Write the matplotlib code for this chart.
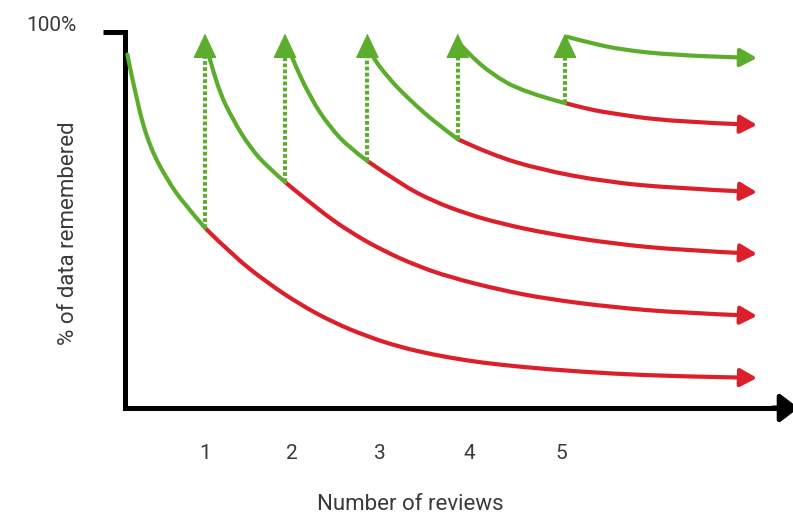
import matplotlib.pyplot as plt
from matplotlib.path import Path
from matplotlib.patches import PathPatch, FancyArrowPatch

plt.rcParams['font.family'] = ['Roboto', 'DejaVu Sans']

# review moments (x in review units, y in % remembered)
review_x = [1.0, 2.0, 3.03, 4.16, 5.5]
review_low = [47.9, 60.1, 65.7, 71.5, 81.1]
review_top = 99.6

tick_pos = [1.0, 2.09, 3.19, 4.31, 5.46]
tick_labels = ['1', '2', '3', '4', '5']

# green parts: memory right after a review, until the next one
green_x = [
    [0.03, 0.15, 0.31, 0.53, 0.73, 1.0],
    [1.02, 1.15, 1.35, 1.56, 1.78, 2.0],
    [2.02, 2.06, 2.31, 2.56, 2.81, 3.03],
    [3.04, 3.06, 3.28, 3.56, 3.9, 4.16],
    [4.18, 4.25, 4.56, 4.98, 5.5],
]
green_y = [
    [94.0, 81.1, 69.4, 60.6, 54.5, 47.9],
    [96.0, 85.4, 76.6, 69.4, 64.1, 60.1],
    [97.0, 94.4, 82.7, 74.7, 69.1, 65.7],
    [96.5, 94.4, 88.0, 81.9, 75.5, 71.5],
    [97.0, 95.2, 89.1, 84.0, 81.1],
]
# last curve after review 5, stays green
last_x = [5.53, 5.81, 6.23, 6.85, 7.69, 7.9]
last_y = [98.7, 97.1, 95.2, 93.9, 93.2, 93.1]

# red parts: forgetting when no further review happens
red_x = [
    [1.0, 1.35, 1.78, 2.19, 2.6, 3.03, 3.44, 3.85, 4.28, 4.69, 5.28, 6.1, 6.94, 7.9],
    [2.0, 2.4, 2.81, 3.23, 3.65, 4.06, 4.69, 5.28, 6.1, 6.94, 7.9],
    [3.03, 3.44, 3.85, 4.28, 4.69, 5.28, 6.1, 6.94, 7.9],
    [4.16, 4.56, 5.19, 6.03, 6.85, 7.9],
    [5.5, 5.73, 6.03, 6.85, 7.9],
]
red_y = [
    [47.9, 40.5, 33.3, 27.5, 22.8, 19.0, 16.2, 14.2, 12.6, 11.5, 10.3, 9.1, 8.4, 8.0],
    [60.1, 53.0, 46.8, 41.8, 37.8, 34.8, 31.4, 29.0, 26.8, 25.3, 24.5],
    [65.7, 59.6, 55.0, 51.6, 49.1, 46.4, 43.7, 42.0, 41.0],
    [71.5, 67.5, 63.4, 60.1, 58.5, 57.4],
    [81.1, 79.8, 78.5, 76.1, 75.3],
]

GREEN = '#5cad2e'
RED = '#dc1f2b'
TEXT = '#3a3a3a'
LW = 3.0
FS = 16


def smooth_path(x, y):
    # quadratic bezier chain through the read points (midpoint scheme)
    pts = list(zip(x, y))
    verts = [pts[0]]
    codes = [Path.MOVETO]
    for i in range(1, len(pts) - 1):
        if i < len(pts) - 2:
            end = ((pts[i][0] + pts[i + 1][0]) / 2, (pts[i][1] + pts[i + 1][1]) / 2)
        else:
            end = pts[-1]
        verts += [pts[i], end]
        codes += [Path.CURVE3, Path.CURVE3]
    return Path(verts, codes)


fig = plt.figure(figsize=(7.93, 5.16), dpi=100)
ax = fig.add_axes([125 / 793, 108 / 516, 668 / 793, 376 / 516])
ax.set_xlim(0, 8.35)
ax.set_ylim(0, 100)


def curve_with_head(x, y, color):
    arr = FancyArrowPatch(path=smooth_path(x, y),
                          arrowstyle='-|>,head_length=0.55,head_width=0.3',
                          mutation_scale=18, color=color, lw=LW,
                          capstyle='round', joinstyle='round', zorder=3)
    ax.add_patch(arr)


for xs, ys in zip(red_x, red_y):
    curve_with_head(xs, ys, RED)
for xs, ys in zip(green_x, green_y):
    ax.add_patch(PathPatch(smooth_path(xs, ys), fill=False, edgecolor=GREEN, lw=LW,
                           capstyle='round', joinstyle='round', zorder=4))
curve_with_head(last_x, last_y, GREEN)

# dotted review arrows
for rx, ry in zip(review_x, review_low):
    ax.plot([rx, rx], [ry, review_top - 4], color=GREEN, lw=3.0,
            linestyle=(0, (0.9, 0.55)), dash_capstyle='butt', zorder=5)
    ax.annotate('', xy=(rx, review_top), xytext=(rx, review_top - 6),
                arrowprops=dict(arrowstyle='-|>,head_length=0.8,head_width=0.38',
                                color=GREEN, lw=1, mutation_scale=20,
                                shrinkA=0, shrinkB=0), zorder=6)

# axes
for side in ['top', 'right']:
    ax.spines[side].set_visible(False)
ax.spines['left'].set_linewidth(3.6)
ax.spines['bottom'].set_linewidth(3.6)
ax.spines['bottom'].set_bounds(0, 8.2)
ax.annotate('', xy=(8.42, 0), xytext=(8.1, 0), annotation_clip=False,
            arrowprops=dict(arrowstyle='-|>,head_length=0.55,head_width=0.42',
                            color='black', lw=3.6, mutation_scale=20,
                            shrinkA=0, shrinkB=0))

ax.set_yticks([100])
ax.tick_params(axis='y', length=16, width=3.6, labelleft=False)
ax.annotate('100%', xy=(0, 100), xytext=(-35, 5), textcoords='offset points',
            ha='right', va='center', fontsize=FS - 1, color=TEXT,
            annotation_clip=False)

ax.set_xticks(tick_pos, tick_labels)
ax.tick_params(axis='x', length=0, pad=26, labelsize=FS - 1, labelcolor=TEXT)

fig.text(410 / 793, 1 - 504 / 516, 'Number of reviews', ha='center', va='center',
         fontsize=FS, color=TEXT)
fig.text(68 / 793, 1 - 233 / 516, '% of data remembered', ha='center', va='center',
         rotation=90, fontsize=FS, color=TEXT)

fig.savefig('out.png', dpi=100)
